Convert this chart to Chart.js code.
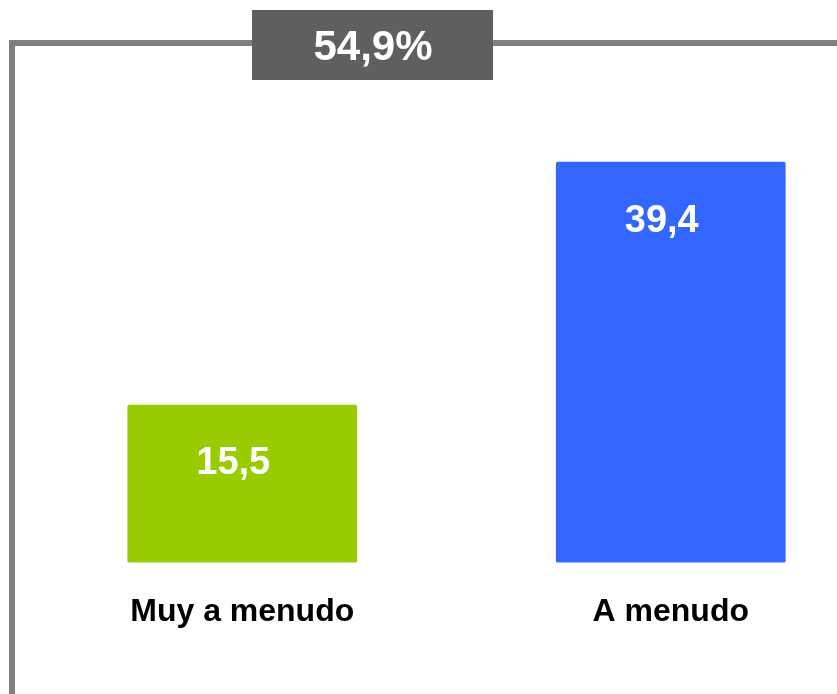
<!DOCTYPE html>
<html>
<head>
<meta charset="utf-8">
<script src="https://cdn.jsdelivr.net/npm/chart.js@4/dist/chart.umd.min.js"></script>
<style>
  html, body { margin: 0; padding: 0; background: #fff; overflow: hidden; }
  #wrap { position: absolute; left: 0; top: 0; width: 885px; height: 694px; }
</style>
</head>
<body>
<div id="wrap"><canvas id="chart"></canvas></div>
<script>
// data
const categories = ['Muy a menudo', 'A menudo'];
const values = [15.5, 39.4];
const barColors = ['#99cc00', '#3366ff'];

const fmt = v => v.toFixed(1).replace('.', ',');
const total = values.reduce((a, b) => a + b, 0);

// frame lines + total box
const framePlugin = {
  id: 'frame',
  beforeDraw(chart) {
    const c = chart.ctx;
    c.save();
    c.strokeStyle = '#808080';
    c.lineWidth = 6;
    c.beginPath();
    c.moveTo(12, 700);
    c.lineTo(12, 43);
    c.lineTo(900, 43);
    c.stroke();
    c.fillStyle = '#5f5f5f';
    c.fillRect(252, 10, 241, 70);
    c.fillStyle = '#fff';
    c.font = 'bold 42px "Liberation Sans", Arial, sans-serif';
    c.textAlign = 'center';
    c.textBaseline = 'middle';
    c.fillText(fmt(total) + '%', 373, 48);
    c.restore();
  }
};

// value labels inside bars
const valuePlugin = {
  id: 'values',
  afterDatasetsDraw(chart) {
    const c = chart.ctx;
    const meta = chart.getDatasetMeta(0);
    c.save();
    c.fillStyle = '#fff';
    c.font = 'bold 38px "Liberation Sans", Arial, sans-serif';
    c.textAlign = 'center';
    c.textBaseline = 'middle';
    meta.data.forEach((bar, i) => {
      c.fillText(fmt(values[i]), bar.x - 9, bar.y + 59);
    });
    c.restore();
  }
};

new Chart(document.getElementById('chart'), {
  type: 'bar',
  data: {
    labels: categories,
    datasets: [{
      data: values,
      backgroundColor: barColors,
      borderRadius: 2,
      borderSkipped: false,
      barThickness: 229
    }]
  },
  options: {
    responsive: true,
    maintainAspectRatio: false,
    animation: false,
    layout: { padding: { left: 28, right: 0, top: 100, bottom: 33 } },
    plugins: { legend: { display: false }, tooltip: { enabled: false } },
    scales: {
      y: { display: false, min: 0, max: 45.5 },
      x: {
        grid: { display: false, drawTicks: false },
        border: { display: false },
        ticks: {
          color: '#000',
          padding: 30,
          font: { family: '"Liberation Sans", Arial, sans-serif', size: 32, weight: 'bold' }
        }
      }
    }
  },
  plugins: [framePlugin, valuePlugin]
});
</script>
</body>
</html>
